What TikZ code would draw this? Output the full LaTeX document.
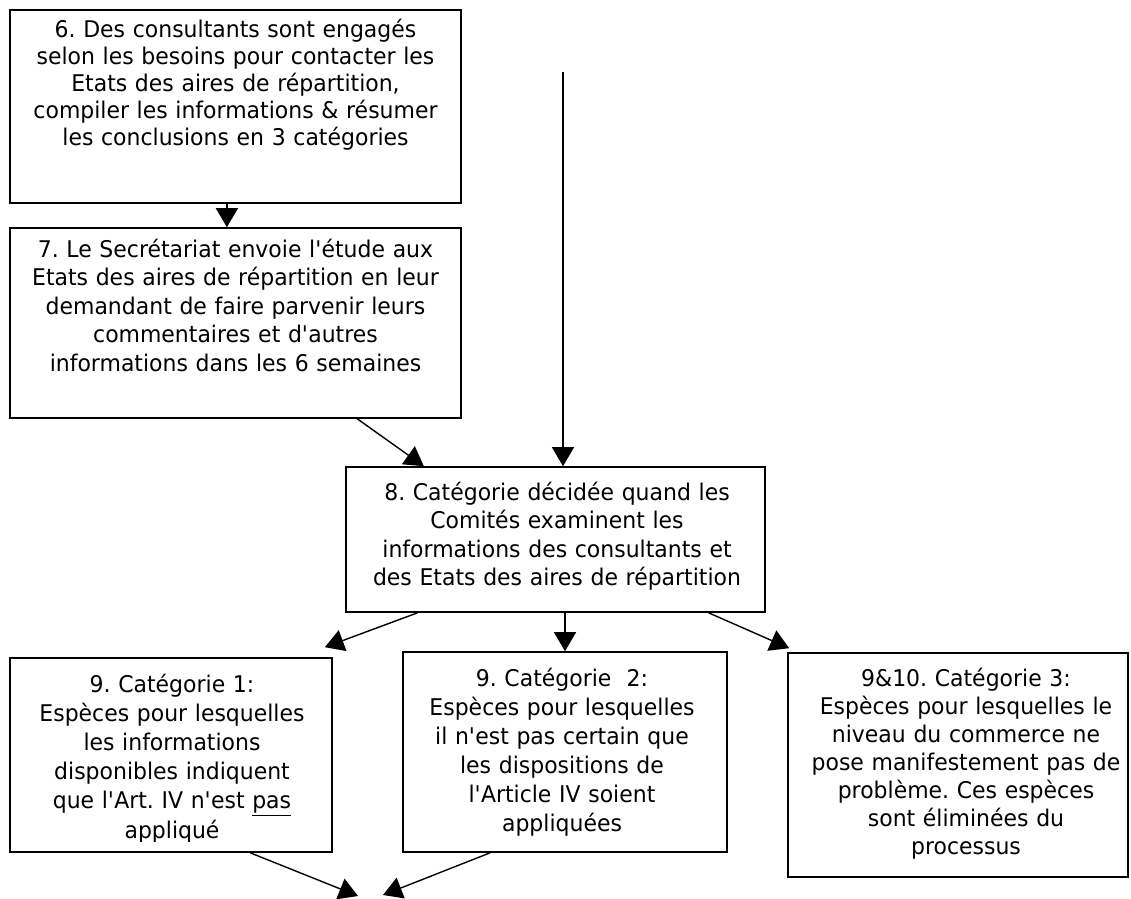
\documentclass[tikz,border=0pt]{standalone}
\usepackage{fontspec}
\setmainfont{DejaVu Sans}[FakeStretch=0.955]
\usetikzlibrary{arrows.meta,calc}
\newcommand{\ap}{\textquotesingle}
\frenchspacing
\begin{document}
\begin{tikzpicture}[x=1pt,y=-1pt,
  box/.style={draw,line width=1.6pt,inner sep=0pt,rectangle},
  txt/.style={inner sep=0pt,align=center,font=\fontsize{23}{27.5}\selectfont},
  arr/.style={line width=1.4pt,-{Triangle[length=19pt,width=22pt]}}]
\useasboundingbox (0,0) rectangle (1131,898);
\fill[white] (0,0) rectangle (1131,898);
% boxes
\node[box,minimum width=451pt,minimum height=193pt] (b6) at (235.5,106.5) {};
\node[box,minimum width=451pt,minimum height=190pt] (b7) at (235.5,323) {};
\node[box,minimum width=419pt,minimum height=145pt] (b8) at (555.5,539.5) {};
\node[box,minimum width=322pt,minimum height=194pt] (b9a) at (171,755) {};
\node[box,minimum width=324pt,minimum height=200pt] (b9b) at (565,752) {};
\node[box,minimum width=340pt,minimum height=224pt] (b9c) at (958,765) {};
% texts
\node[txt,font=\fontsize{23}{27}\selectfont,text width=440pt,anchor=base] (t6) at (235.5,37) {6. Des consultants sont engagés\\selon les besoins pour contacter les\\Etats des aires de répartition,\\compiler les informations \& résumer\\les conclusions en 3 catégories};
\node[txt,font=\fontsize{23}{28.5}\selectfont,text width=440pt,anchor=base] (t7) at (235.5,257) {7. Le Secrétariat envoie l\ap étude aux\\Etats des aires de répartition en leur\\demandant de faire parvenir leurs\\commentaires et d\ap autres\\informations dans les 6 semaines};
\node[txt,font=\fontsize{23}{28.5}\selectfont,text width=410pt,anchor=base] (t8) at (557,500) {8. Catégorie décidée quand les\\Comités examinent les\\informations des consultants et\\des Etats des aires de répartition};
\begin{scope}
\clip (0,600) rectangle (400,841);
\node[txt,font=\fontsize{23}{29.2}\selectfont,text width=315pt,anchor=base] (t9a) at (172,692) {9. Catégorie 1:\\Espèces pour lesquelles\\les informations\\disponibles indiquent\\que l\ap Art. IV n\ap est \underline{pas}\\appliqué};
\end{scope}
\node[txt,font=\fontsize{23}{29}\selectfont,text width=315pt,anchor=base] (t9b) at (562,686) {9. Catégorie\ \ 2:\\Espèces pour lesquelles\\il n\ap est pas certain que\\les dispositions de\\l\ap Article IV soient\\appliquées};
\node[txt,font=\fontsize{23}{28}\selectfont,text width=335pt,anchor=base] (t9c) at (966,686) {9\&10. Catégorie 3:\\Espèces pour lesquelles le\\niveau du commerce ne\\pose manifestement pas de\\problème. Ces espèces\\sont éliminées du\\processus};
% connectors
\coordinate (a6) at ($(b6.south west)!0.481!(b6.south east)$);
\draw[arr] (a6) -- (a6 |- b7.north);
\draw[arr] ($(b7.south west)!0.769!(b7.south east)$) -- ($(b8.north west)!0.187!(b8.north east)$);
\coordinate (src) at (563,72);
\draw[arr] (src) -- (src |- b8.north);
\draw[arr] ($(b8.south west)!0.172!(b8.south east)$) -- ($(b9a.north east)+(-8,-10)$);
\draw[arr] (b9b.north |- b8.south) -- (b9b.north);
\draw[arr] ($(b8.south west)!0.864!(b8.south east)$) -- ($(b9c.north west)+(2,-4)$);
\coordinate (e1) at (358,896);
\coordinate (e2) at (383,895);
\draw[arr] ($(b9a.south west)!0.745!(b9a.south east)$) -- (e1);
\draw[arr] ($(b9b.south west)!0.27!(b9b.south east)$) -- (e2);
\end{tikzpicture}
\end{document}
